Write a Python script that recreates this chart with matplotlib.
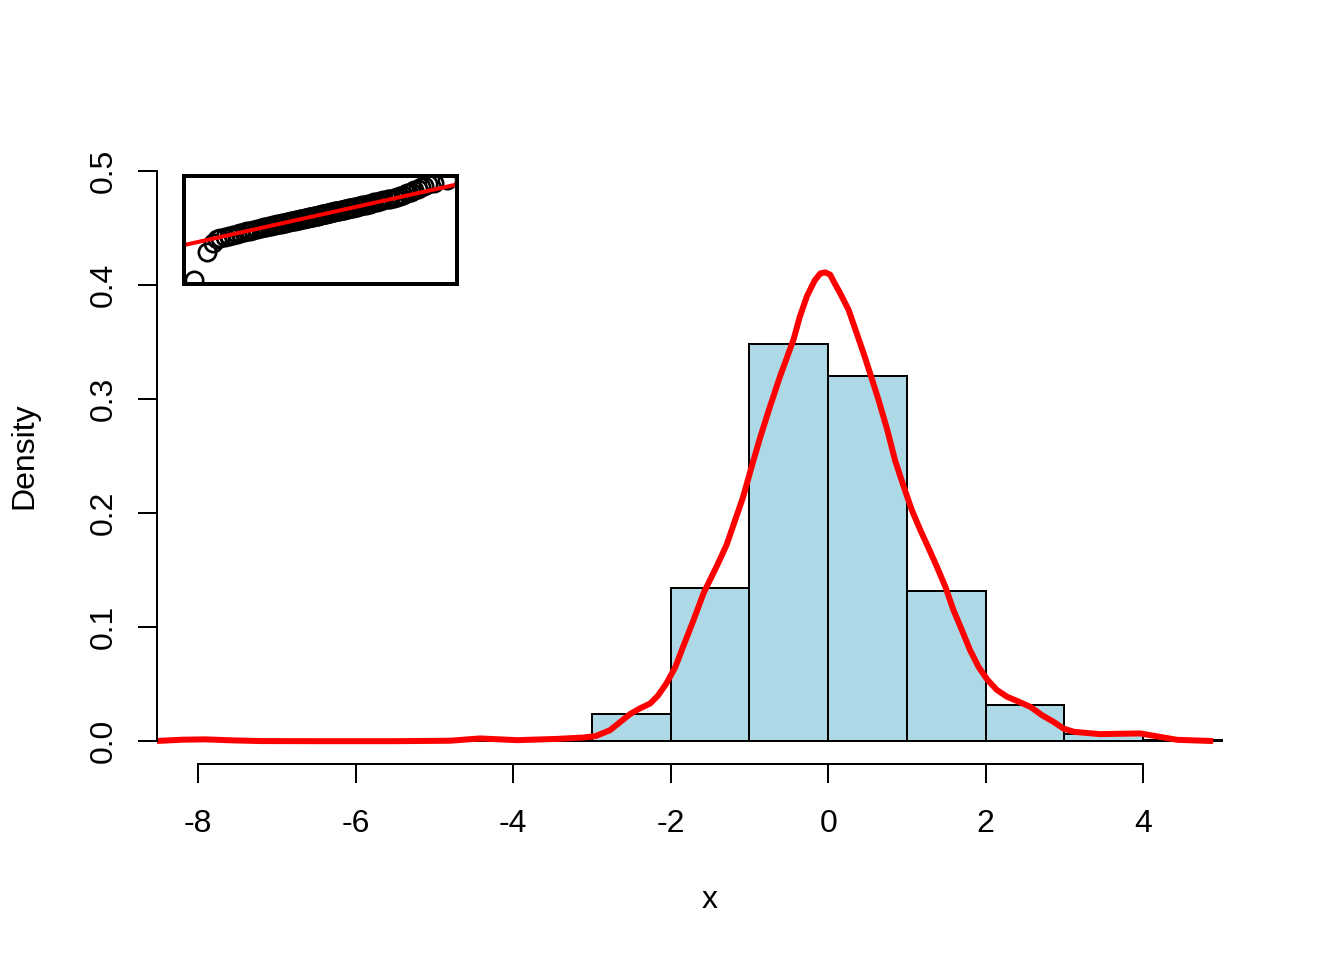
import matplotlib.pyplot as plt
import numpy as np
from statistics import NormalDist

plt.rcParams['font.family'] = ['Liberation Sans', 'DejaVu Sans']
plt.rcParams['axes.unicode_minus'] = False

# histogram (density scale), bins of width 1 from -8 to 5
bin_edges = [-8, -7, -6, -5, -4, -3, -2, -1, 0, 1, 2, 3, 4, 5]
bin_density = [0.001, 0.0, 0.0, 0.001, 0.001, 0.024, 0.134, 0.348, 0.320,
               0.132, 0.032, 0.006, 0.001]

# kernel density curve
dens_x = [-8.52, -8.2, -7.9, -7.6, -7.2, -6.5, -5.5, -4.8, -4.42, -3.95,
          -3.44, -3.11, -2.95, -2.77, -2.51, -2.39, -2.26, -2.16, -2.05, -1.94,
          -1.84, -1.71, -1.58, -1.41, -1.29, -1.20, -1.08, -0.97, -0.86, -0.74,
          -0.61, -0.44, -0.36, -0.27, -0.17, -0.10, -0.04, 0.025, 0.07, 0.15,
          0.26, 0.36, 0.45, 0.53, 0.64, 0.75, 0.85, 0.96, 1.06, 1.17,
          1.27, 1.38, 1.49, 1.59, 1.70, 1.80, 1.91, 2.02, 2.14, 2.27,
          2.44, 2.57, 2.71, 2.86, 2.99, 3.12, 3.45, 3.96, 4.43, 4.85]
dens_y = [0.0002, 0.0013, 0.0016, 0.0008, 0.0001, 0.0, 0.0, 0.0004, 0.0024, 0.0009,
          0.0020, 0.0032, 0.0045, 0.0096, 0.024, 0.0287, 0.033, 0.040, 0.051, 0.065,
          0.083, 0.106, 0.130, 0.154, 0.172, 0.190, 0.214, 0.241, 0.267, 0.293,
          0.320, 0.352, 0.372, 0.390, 0.404, 0.410, 0.411, 0.409, 0.403, 0.393,
          0.378, 0.358, 0.340, 0.323, 0.299, 0.273, 0.246, 0.223, 0.203, 0.185,
          0.170, 0.153, 0.135, 0.115, 0.097, 0.080, 0.065, 0.054, 0.045, 0.039,
          0.034, 0.030, 0.023, 0.017, 0.011, 0.0082, 0.0062, 0.0068, 0.0012, 0.0002]

# normal Q-Q inset: ranks (out of qq_n) and sorted sample values
qq_n = 1000
qq_rank = [1, 2, 3, 4, 5, 7, 9, 12, 15, 19, 23, 28, 34, 40,
           50, 60, 70, 80, 90, 100, 110, 120, 130, 140, 150, 160, 170, 180, 190, 200,
           210, 220, 230, 240, 250, 260, 270, 280, 290, 300, 310, 320, 330, 340, 350,
           360, 370, 380, 390, 400, 410, 420, 430, 440, 450, 460, 470, 480, 490, 500,
           510, 520, 530, 540, 550, 560, 570, 580, 590, 600, 610, 620, 630, 640, 650,
           660, 670, 680, 690, 700, 710, 720, 730, 740, 750, 760, 770, 780, 790, 800,
           810, 820, 830, 840, 850, 860, 870, 880, 890, 900, 910, 920, 930, 940, 950,
           960, 966, 972, 977, 981, 985, 988, 991, 993, 995, 996, 997, 998, 999, 1000]
qq_sample = [-7.80, -4.40, -3.40, -2.95, -2.80, -2.62, -2.50, -2.38, -2.27, -2.16, -2.07, -1.98, -1.88, -1.80,
             -1.68, -1.58, -1.50, -1.43, -1.36, -1.30, -1.24, -1.19, -1.14, -1.09, -1.05, -1.00, -0.96, -0.92, -0.88, -0.85,
             -0.81, -0.78, -0.74, -0.71, -0.68, -0.65, -0.62, -0.59, -0.56, -0.53, -0.50, -0.47, -0.44, -0.42, -0.39,
             -0.36, -0.34, -0.31, -0.28, -0.26, -0.23, -0.21, -0.18, -0.16, -0.13, -0.11, -0.08, -0.06, -0.03, -0.01,
             0.02, 0.05, 0.07, 0.10, 0.13, 0.15, 0.18, 0.21, 0.23, 0.26, 0.29, 0.31, 0.34, 0.37, 0.40,
             0.42, 0.45, 0.48, 0.51, 0.54, 0.57, 0.60, 0.63, 0.66, 0.70, 0.73, 0.76, 0.80, 0.84, 0.87,
             0.91, 0.95, 0.99, 1.03, 1.08, 1.12, 1.17, 1.22, 1.28, 1.34, 1.41, 1.48, 1.56, 1.65, 1.75,
             1.87, 1.95, 2.06, 2.16, 2.27, 2.42, 2.57, 2.78, 2.98, 3.15, 3.30, 3.50, 3.65, 3.85, 4.17]

fig = plt.figure(figsize=(7, 5), dpi=192)
ax = fig.add_axes([157 / 1344, 1 - 764 / 960, 1106 / 1344, 616 / 960])

ax.bar(bin_edges[:-1], bin_density, width=np.diff(bin_edges), align='edge',
       color='lightblue', edgecolor='black', linewidth=0.75)
ax.plot(dens_x, dens_y, color='red', lw=2.25, solid_joinstyle='round')

# R-style 4% padding
lo, hi = bin_edges[0], bin_edges[-1]
ax.set_xlim(lo - 0.04 * (hi - lo), hi + 0.04 * (hi - lo))
ax.set_ylim(-0.02, 0.52)

xt = [-8, -6, -4, -2, 0, 2, 4]
yt = [0.0, 0.1, 0.2, 0.3, 0.4, 0.5]
ax.set_xticks(xt)
ax.set_yticks(yt)
ax.set_yticklabels(['%.1f' % v for v in yt])
for s in ['top', 'right']:
    ax.spines[s].set_visible(False)
ax.spines['left'].set_bounds(yt[0], yt[-1])
ax.spines['bottom'].set_bounds(xt[0], xt[-1])
for s in ['left', 'bottom']:
    ax.spines[s].set_linewidth(0.75)
ax.tick_params(direction='out', length=7.2, width=0.75, labelsize=12, colors='black')
ax.tick_params(axis='x', pad=9.5)
ax.tick_params(axis='y', labelrotation=90, pad=7)
for lbl in ax.get_yticklabels():
    lbl.set_va('center')

ax.set_xlabel('x', fontsize=12, va='center')
ax.xaxis.set_label_coords(0.5, (764 - 900) / 616)
ax.set_ylabel('Density', fontsize=12, va='center')
ax.yaxis.set_label_coords((24 - 157) / 1106, 0.5)

# inset Q-Q plot
ins = fig.add_axes([184 / 1344, 1 - 284 / 960, 273 / 1344, 108 / 960])
nd = NormalDist()
theo = [nd.inv_cdf((r - 0.5) / qq_n) for r in qq_rank]
ins.plot(theo, qq_sample, linestyle='none', marker='o', markersize=6.5,
         markerfacecolor='none', markeredgecolor='black', markeredgewidth=1.0)
q1 = np.interp(0.25 * (qq_n - 1) + 1, qq_rank, qq_sample)
q3 = np.interp(0.75 * (qq_n - 1) + 1, qq_rank, qq_sample)
z1, z3 = nd.inv_cdf(0.25), nd.inv_cdf(0.75)
slope = (q3 - q1) / (z3 - z1)
ins.axline((z1, q1), slope=slope, color='red', lw=1.5)
tx0, tx1 = min(theo), max(theo)
sy0, sy1 = min(qq_sample), max(qq_sample)
ins.set_xlim(tx0 - 0.04 * (tx1 - tx0), tx1 + 0.04 * (tx1 - tx0))
ins.set_ylim(sy0 - 0.04 * (sy1 - sy0), sy1 + 0.04 * (sy1 - sy0))
ins.set_xticks([])
ins.set_yticks([])
for s in ins.spines.values():
    s.set_linewidth(1.5)

fig.savefig('out.png', dpi=192, facecolor='white')
